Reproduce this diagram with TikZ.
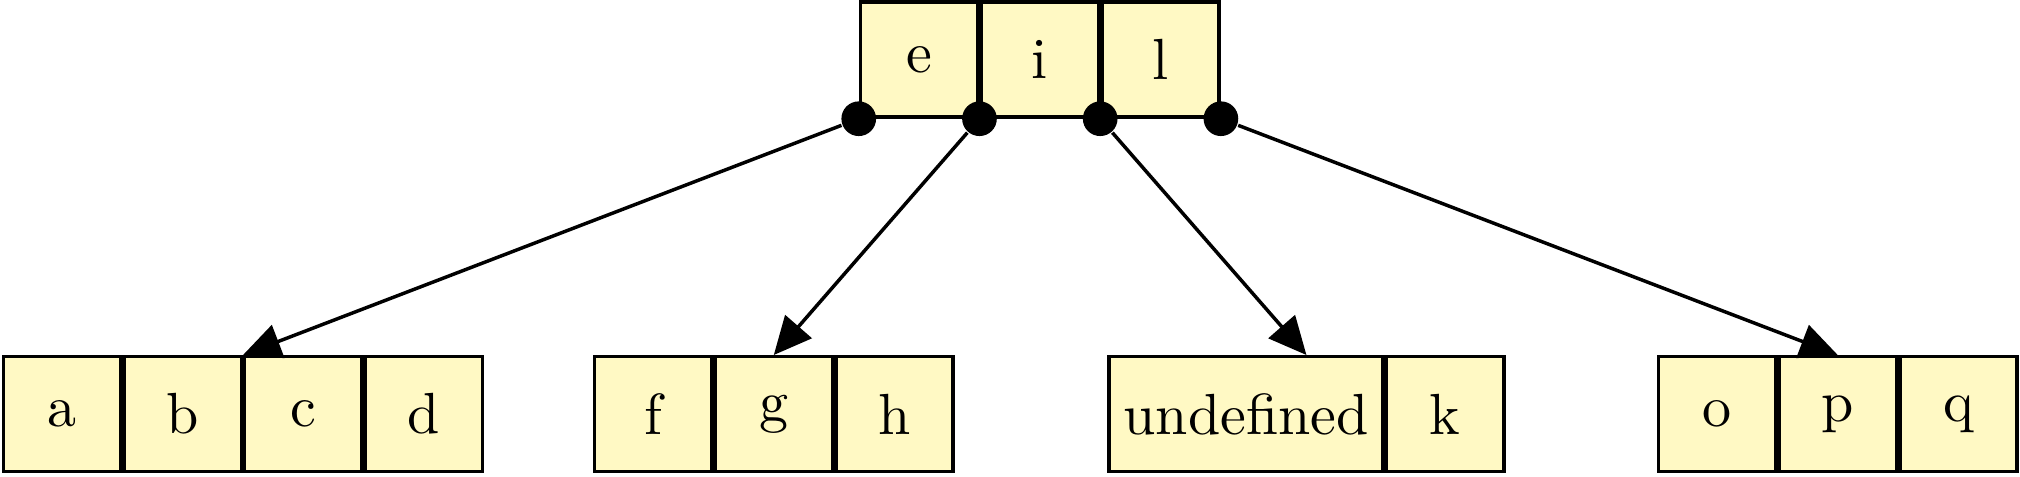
\documentclass[tikz,border=0pt]{standalone}
\usetikzlibrary{positioning,calc,arrows.meta}
\definecolor{cellyellow}{RGB}{255,249,196}
\tikzstyle{cell}=[draw, fill=cellyellow, line width=0.6pt, minimum width=0.71cm,
minimum height=0.695cm, inner sep=2.5pt]
\tikzstyle{pointer}=[circle, fill=black, minimum size=0.21cm, inner sep=0pt]
\tikzstyle{link}=[-{Triangle[length=6.5pt,width=6pt]}, line width=0.6pt]

\begin{document}
\begin{tikzpicture}
\useasboundingbox (0,0) rectangle (12.233,2.883);
% root keys
\node[cell](root1) at (5.566,2.522) {e};
\node[cell,right=0pt of root1](root2) {i};
\node[cell,right=0pt of root2](root3) {l};
% children
\node[cell](leafa) at (0.375,0.375) {a};
\node[cell,right=0pt of leafa](leafb) {b};
\node[cell,right=0pt of leafb](leafc) {c};
\node[cell,right=0pt of leafc](leafd) {d};
\node[cell](leaff) at (3.955,0.375) {f};
\node[cell,right=0pt of leaff](leafg) {g};
\node[cell,right=0pt of leafg](leafh) {h};
\node[cell](leafu) at (7.546,0.375) {undefined};
\node[cell,right=0pt of leafu](leafk) {k};
\node[cell](leafo) at (10.398,0.375) {o};
\node[cell,right=0pt of leafo](leafp) {p};
\node[cell,right=0pt of leafp](leafq) {q};
% pointers
\node[pointer](ptr1) at (root1.south west) {};
\node[pointer](ptr2) at (root1.south east) {};
\node[pointer](ptr3) at (root2.south east) {};
\node[pointer](ptr4) at (root3.south east) {};
\coordinate (in1) at ($(leafb.north east)!0.5!(leafc.north west)$);
\coordinate (in2) at (leafg.north);
\coordinate (in3) at ($(leafu.north west)!0.5!(leafk.north east)$);
\coordinate (in4) at (leafp.north);
\draw [link](ptr1) -- (in1);
\draw [link](ptr2) -- (in2);
\draw [link](ptr3) -- (in3);
\draw [link](ptr4) -- (in4);
\end{tikzpicture}
\end{document}
